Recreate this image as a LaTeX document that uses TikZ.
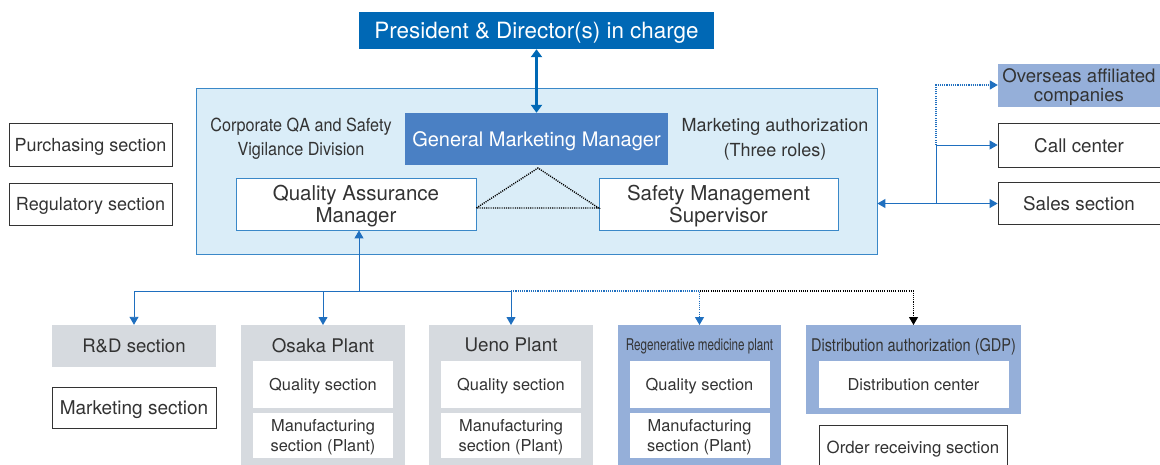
\documentclass[tikz,border=0pt]{standalone}
\usepackage{fontspec}
\setmainfont{TeX Gyre Heros}
\newfontfamily\condfont[FakeStretch=0.72]{TeX Gyre Heros}
\newfontfamily\gdpfont[FakeStretch=0.83]{TeX Gyre Heros}
\newfontfamily\semicond[FakeStretch=0.90]{TeX Gyre Heros}
\usetikzlibrary{arrows.meta}
\definecolor{presblue}{HTML}{0068B5}
\definecolor{gmmblue}{HTML}{4A80C4}
\definecolor{lightbg}{HTML}{DAEDF8}
\definecolor{bordblue}{HTML}{3A88C8}
\definecolor{arrblue}{HTML}{1F6FBF}
\definecolor{grayfill}{HTML}{D6DADF}
\definecolor{medblue}{HTML}{95AFD9}
\definecolor{txt}{HTML}{333333}
\tikzset{
  every node/.style={text=txt, inner sep=0pt, align=center, text depth=0pt},
  whitebox/.style={draw=txt, line width=0.8pt, fill=white, font=\fontsize{18}{21}\selectfont},
  innerbox/.style={fill=white, minimum width=140pt, font=\fontsize{16.4}{20}\selectfont},
  bluebox/.style={draw=bordblue, line width=0.8pt, fill=white, minimum width=240pt, minimum height=52pt, font=\fontsize{20.5}{22}\selectfont},
  plantbox/.style={anchor=north, minimum width=164pt, minimum height=145pt},
  planttitle/.style={font=\fontsize{18.8}{22}\selectfont},
  conn/.style={draw=arrblue, line width=0.9pt},
  fdot/.style={dash pattern=on 1.1pt off 1.1pt},
  tip/.style={-{Triangle[width=9pt,length=8pt]}},
}
\begin{document}
\begin{tikzpicture}[x=1pt,y=-1pt]
\clip (0,0) rectangle (1160,464);
\fill[white] (0,0) rectangle (1160,464);

% top
\node[fill=presblue, text=white, minimum width=355pt, minimum height=37pt,
      font=\fontsize{22.4}{26}\selectfont] (pres) at (536.5,30.5) {President \& Director(s) in charge};

% main light box
\node[fill=lightbg, draw=bordblue, line width=0.8pt, minimum width=681pt, minimum height=166pt] (big) at (536.5,171) {};
\node[fill=gmmblue, text=white, minimum width=263pt, minimum height=52pt,
      font=\fontsize{20}{22}\selectfont] (gmm) at (536.5,139) {General Marketing Manager};
\node[font=\semicond\fontsize{18}{24}\selectfont] (corp) at (301,137) {Corporate QA and Safety\\Vigilance Division};
\node[font=\fontsize{18}{25}\selectfont] (mauth) at (775,137) {Marketing authorization\\(Three roles)};
\node[bluebox] (qam) at (356,204) {Quality Assurance\\Manager};
\node[bluebox, minimum width=239pt] (sms) at (718.5,204) {Safety Management\\Supervisor};

% dotted triangle
\coordinate (apex) at (538,168);
\draw[fdot, line width=1.4pt, black] ([yshift=-4pt]qam.east) -- (apex) -- ([yshift=-4pt]sms.west) -- cycle;

% president arrow
\draw[presblue, line width=3.5pt, {Triangle[width=11pt,length=8pt]}-{Triangle[width=11pt,length=8pt]}] (pres.south) -- (gmm.north);

% left boxes
\node[whitebox, minimum width=163pt, minimum height=43pt] (purch) at (90.5,144.5) {Purchasing section};
\node[whitebox, minimum width=163pt, minimum height=42pt] (reg) at (90.5,204) {Regulatory section};

% right boxes
\node[fill=medblue, minimum width=162pt, minimum height=43pt, font=\fontsize{18.6}{19.5}\selectfont] (over) at (1079,85) {Overseas affiliated\\companies};
\node[whitebox, minimum width=162pt, minimum height=44pt, font=\fontsize{18.8}{21}\selectfont] (call) at (1079,145) {Call center};
\node[whitebox, minimum width=162pt, minimum height=42pt, font=\fontsize{18.8}{21}\selectfont] (sales) at (1079,203.5) {Sales section};

\coordinate (j) at (936,203.5);
\coordinate (jd) at (936,145);
\draw[conn, {Triangle[width=9pt,length=8pt]}-{Triangle[width=9pt,length=8pt]}] (big.east |- sales.west) -- (sales.west);
\draw[conn, tip] (j) |- (call.west);
\draw[conn, tip, fdot, line width=1.1pt] (jd) |- (over.west);

% bottom boxes
\node[fill=grayfill, minimum width=164pt, minimum height=42pt, font=\fontsize{18.6}{21}\selectfont] (rd) at (134,346) {R\&D section};
\node[whitebox, minimum width=164pt, minimum height=41pt, font=\fontsize{19}{21}\selectfont] (mkts) at (134,407.5) {Marketing section};

\node[plantbox, fill=grayfill] (osaka) at (323,325) {};
\node[planttitle] (osakat) at (323,345) {Osaka Plant};
\node[innerbox, minimum height=47pt] (oq) at (323,384.5) {Quality section};
\node[innerbox, minimum height=45pt] (om) at (323,435.5) {Manufacturing\\section (Plant)};

\node[plantbox, fill=grayfill] (ueno) at (511,325) {};
\node[planttitle] (uenot) at (511,345) {Ueno Plant};
\node[innerbox, minimum height=47pt] (uq) at (511,384.5) {Quality section};
\node[innerbox, minimum height=45pt] (um) at (511,435.5) {Manufacturing\\section (Plant)};

\node[plantbox, fill=medblue, minimum width=163pt] (regen) at (699.5,325) {};
\node[font=\condfont\fontsize{16.2}{18}\selectfont] (regent) at (699.5,345) {Regenerative medicine plant};
\node[innerbox, minimum height=47pt] (rq) at (699.5,384.5) {Quality section};
\node[innerbox, minimum height=45pt] (rm) at (699.5,435.5) {Manufacturing\\section (Plant)};

\node[fill=medblue, anchor=north, minimum width=215pt, minimum height=89pt] (gdp) at (913.5,325) {};
\node[font=\gdpfont\fontsize{17.5}{18}\selectfont] (gdpt) at (913.5,345) {Distribution authorization (GDP)};
\node[innerbox, minimum width=190pt, minimum height=47pt] (dc) at (913.5,384.5) {Distribution center};
\node[whitebox, anchor=north, minimum width=188pt, minimum height=50pt] (ord) at (913,425) {};
\node[font=\fontsize{16.8}{19}\selectfont] (ordt) at (913,447) {Order receiving section};

% bottom connectors
\coordinate (hub) at (359,291);
\draw[conn, tip] (hub) -- (hub |- qam.south);
\draw[conn, tip] (hub) -| (rd.north);
\draw[conn, tip] (hub) -| (osaka.north);
\draw[conn, tip] (hub) -| (ueno.north);
\draw[conn, tip, fdot, line width=1.1pt] (ueno.north |- hub) -| (regen.north);
\draw[draw=black, line width=1.1pt, tip, fdot] (regen.north |- hub) -| (gdp.north);
\end{tikzpicture}
\end{document}
